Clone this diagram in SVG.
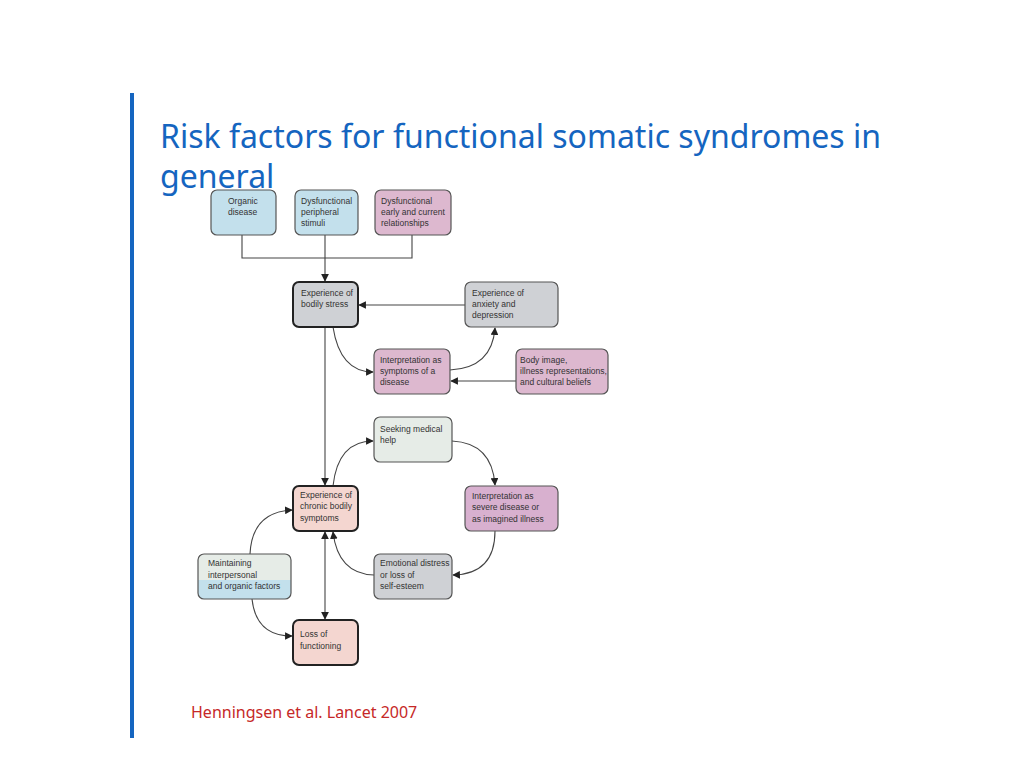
<svg xmlns="http://www.w3.org/2000/svg" width="1024" height="768" viewBox="0 0 1024 768">
<style>
.b{stroke:#555;stroke-width:1.2}
.t{stroke:#222;stroke-width:2}
.l{font-family:"Liberation Sans",Arial,sans-serif;font-size:8.5px;fill:#333}
.c{fill:none;stroke:#444;stroke-width:1.1}
</style>
<defs>
<marker id="a" viewBox="0 0 10 10" refX="9" refY="5" markerWidth="7" markerHeight="7" orient="auto-start-reverse"><path d="M0,0L10,5L0,10z" fill="#222"/></marker>
<linearGradient id="mg" x1="0" y1="0" x2="0" y2="1"><stop offset="0.58" stop-color="#e6ece7"/><stop offset="0.58" stop-color="#c3e0ec"/></linearGradient>
</defs>
<rect width="1024" height="768" fill="#fff"/>
<rect x="130" y="93" width="4" height="645" fill="#1565c0"/>
<text x="160" y="148" font-family="'Noto Sans','Open Sans',sans-serif" font-size="32" fill="#1565c0">Risk factors for functional somatic syndromes in</text>
<text x="160" y="188" font-family="'Noto Sans','Open Sans',sans-serif" font-size="32" fill="#1565c0">general</text>
<text x="191" y="718" font-family="'Noto Sans','Open Sans',sans-serif" font-size="16" fill="#c62828">Henningsen et al. Lancet 2007</text>
<g id="connectors">
<path class="c" d="M242,235V258H412V235M325,235V281" marker-end="url(#a)"/>
<path class="c" d="M325,327V485" marker-end="url(#a)"/>
<path class="c" d="M465,305H359" marker-end="url(#a)"/>
<path class="c" d="M333,327Q340,372 373,372" marker-end="url(#a)"/>
<path class="c" d="M450,370Q492,368 495,328" marker-end="url(#a)"/>
<path class="c" d="M516,381H451" marker-end="url(#a)"/>
<path class="c" d="M333,486Q338,441 373,441" marker-end="url(#a)"/>
<path class="c" d="M452,441Q492,443 495,485" marker-end="url(#a)"/>
<path class="c" d="M495,531Q495,574 453,575" marker-end="url(#a)"/>
<path class="c" d="M374,575Q338,574 333,532" marker-end="url(#a)"/>
<path class="c" d="M250,554Q252,512 292,510" marker-end="url(#a)"/>
<path class="c" d="M252,599Q256,636 292,636" marker-end="url(#a)"/>
<path class="c" d="M325,532V619" marker-start="url(#a)" marker-end="url(#a)"/>
</g>
<g id="n1"><rect class="b" x="211" y="190" width="65" height="45" rx="6" fill="#c3e0ec"/><text class="l" x="228" y="204">Organic</text><text class="l" x="228" y="215">disease</text></g>
<g id="n2"><rect class="b" x="295" y="190" width="63" height="45" rx="6" fill="#c3e0ec"/><text class="l" x="301" y="204">Dysfunctional</text><text class="l" x="301" y="215">peripheral</text><text class="l" x="301" y="226">stimuli</text></g>
<g id="n3"><rect class="b" x="375" y="190" width="76" height="45" rx="6" fill="#ddb8cf"/><text class="l" x="381" y="204">Dysfunctional</text><text class="l" x="381" y="215">early and current</text><text class="l" x="381" y="226">relationships</text></g>
<g id="n4"><rect class="t" x="293" y="282" width="65" height="45" rx="6" fill="#cfd1d5"/><text class="l" x="301" y="296">Experience of</text><text class="l" x="301" y="307">bodily stress</text></g>
<g id="n5"><rect class="b" x="465" y="282" width="93" height="45" rx="6" fill="#cfd1d5"/><text class="l" x="472" y="296">Experience of</text><text class="l" x="472" y="307">anxiety and</text><text class="l" x="472" y="318">depression</text></g>
<g id="n6"><rect class="b" x="374" y="349" width="76" height="45" rx="6" fill="#ddb8cf"/><text class="l" x="380" y="363">Interpretation as</text><text class="l" x="380" y="374">symptoms of a</text><text class="l" x="380" y="385">disease</text></g>
<g id="n7"><rect class="b" x="516" y="349" width="92" height="45" rx="6" fill="#ddb8cf"/><text class="l" x="520" y="363">Body image,</text><text class="l" x="520" y="374">illness representations,</text><text class="l" x="520" y="385">and cultural beliefs</text></g>
<g id="n8"><rect class="b" x="374" y="417" width="78" height="45" rx="6" fill="#e6ece7"/><text class="l" x="380" y="432">Seeking medical</text><text class="l" x="380" y="443">help</text></g>
<g id="n9"><rect class="t" x="293" y="486" width="65" height="45" rx="6" fill="#f4d6d0"/><text class="l" x="300" y="498">Experience of</text><text class="l" x="300" y="509">chronic bodily</text><text class="l" x="300" y="521">symptoms</text></g>
<g id="n10"><rect class="b" x="465" y="486" width="93" height="45" rx="6" fill="#d8b0cf"/><text class="l" x="472" y="499">Interpretation as</text><text class="l" x="472" y="510">severe disease or</text><text class="l" x="472" y="522">as imagined illness</text></g>
<g id="n11"><rect class="b" x="198" y="554" width="93" height="45" rx="6" fill="url(#mg)"/><text class="l" x="208" y="566">Maintaining</text><text class="l" x="208" y="578">interpersonal</text><text class="l" x="208" y="589">and organic factors</text></g>
<g id="n12"><rect class="b" x="374" y="554" width="78" height="45" rx="6" fill="#cfd1d5"/><text class="l" x="380" y="566">Emotional distress</text><text class="l" x="380" y="578">or loss of</text><text class="l" x="380" y="589">self-esteem</text></g>
<g id="n13"><rect class="t" x="293" y="620" width="65" height="45" rx="6" fill="#f4d6d0"/><text class="l" x="300" y="637">Loss of</text><text class="l" x="300" y="649">functioning</text></g>
</svg>
